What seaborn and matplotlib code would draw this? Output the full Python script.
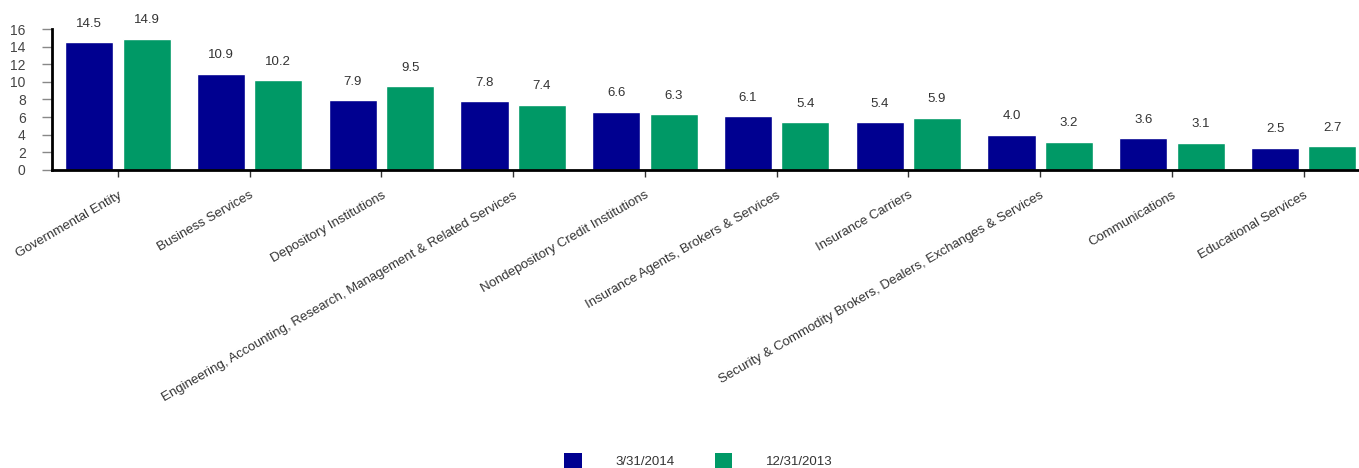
import pandas as pd
import matplotlib.pyplot as plt
import seaborn as sns
from matplotlib.patches import Patch

# data
industries = ['Governmental Entity', 'Business Services', 'Depository Institutions',
              'Engineering, Accounting, Research, Management & Related Services',
              'Nondepository Credit Institutions', 'Insurance Agents, Brokers & Services',
              'Insurance Carriers', 'Security & Commodity Brokers, Dealers, Exchanges & Services',
              'Communications', 'Educational Services']
q1_2014 = [14.5, 10.9, 7.9, 7.8, 6.6, 6.1, 5.4, 4.0, 3.6, 2.5]
q4_2013 = [14.9, 10.2, 9.5, 7.4, 6.3, 5.4, 5.9, 3.2, 3.1, 2.7]
series_names = ['3/31/2014', '12/31/2013']
colors = ['#000090', '#009966']

df = pd.DataFrame({
    'industry': industries * 2,
    'value': q1_2014 + q4_2013,
    'period': [series_names[0]] * len(industries) + [series_names[1]] * len(industries),
})

sns.set_style("white")
plt.rcParams['font.family'] = ['Liberation Sans', 'DejaVu Sans']

fig = plt.figure(figsize=(13.59, 4.68), dpi=100)
ax = fig.add_axes([0.0383, 0.637, 0.9617, 0.301])

sns.barplot(data=df, x='industry', y='value', hue='period', palette=colors,
            width=0.87, gap=0.16, saturation=1, ax=ax, legend=False)

# value labels
for cont in ax.containers:
    ax.bar_label(cont, fmt='%.1f', padding=9, fontsize=9.5, color='#333333')

ax.set_xlim(-0.5, 9.42)
ax.set_ylim(0, 16)
ax.set_yticks(range(0, 17, 2))
ax.set_xlabel('')
ax.set_ylabel('')

for s in ['top', 'right']:
    ax.spines[s].set_visible(False)
for s in ['left', 'bottom']:
    ax.spines[s].set_color('black')
    ax.spines[s].set_linewidth(2)

ax.tick_params(axis='y', which='both', left=True, length=7, width=1, color='#888888',
               labelsize=10, labelcolor='#444444', pad=12)
ax.tick_params(axis='x', which='both', bottom=True, length=5, width=1, color='#333333',
               labelsize=9.5, labelcolor='#333333', pad=9)
ax.set_xticks(range(len(industries)))
ax.set_xticklabels(industries, rotation=30, ha='right', rotation_mode='anchor')
ax.margins(x=0)

handles = [Patch(facecolor=c, edgecolor='none') for c in colors]
fig.legend(handles, series_names, loc='lower center', bbox_to_anchor=(0.514, -0.025),
           ncol=2, frameon=False, fontsize=9.5, handlelength=1.3, handleheight=1.3,
           columnspacing=3.0, handletextpad=2.6, labelcolor='#333333')

plt.savefig('out.png', dpi=100)
plt.close()
